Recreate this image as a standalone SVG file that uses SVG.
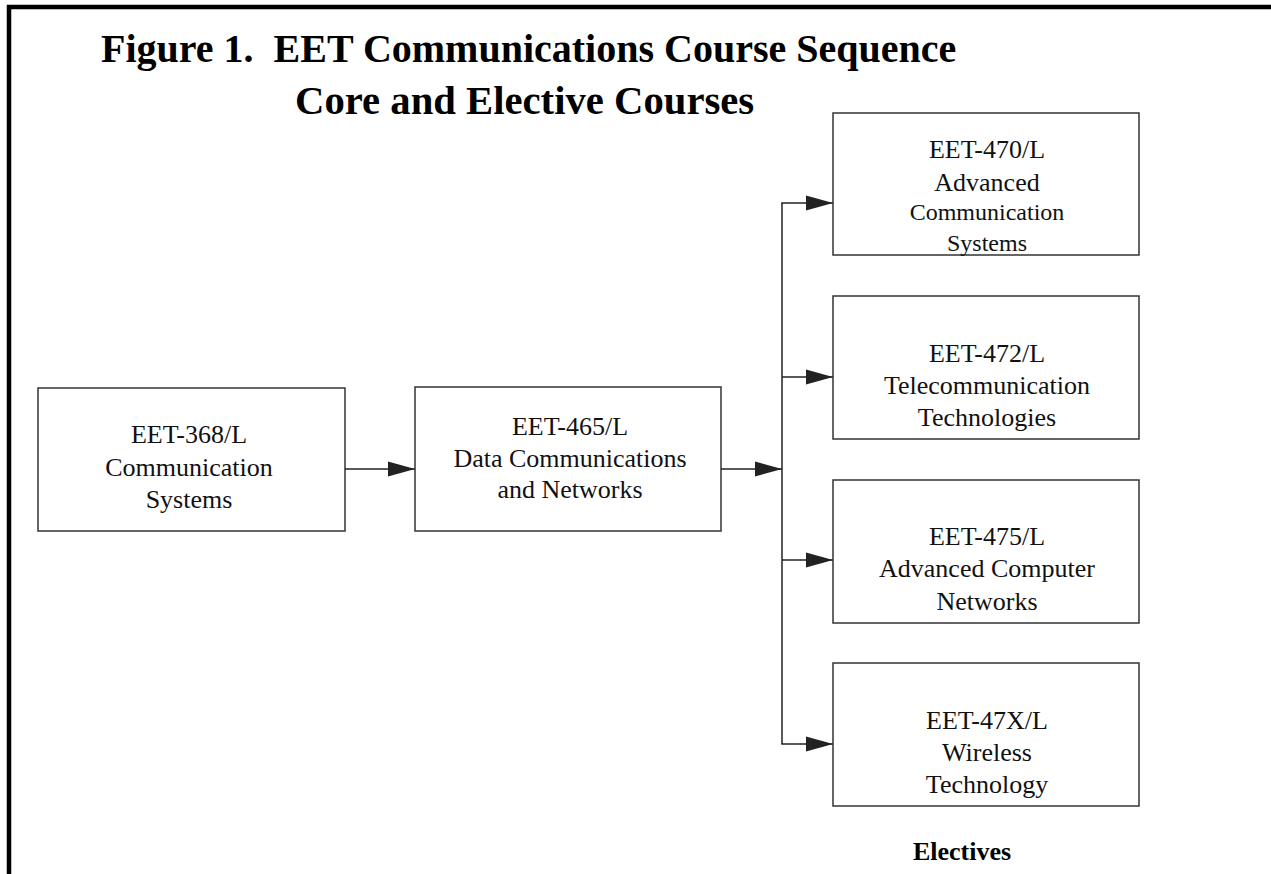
<svg xmlns="http://www.w3.org/2000/svg" width="1271" height="874" viewBox="0 0 1271 874">
<style>
.title{font-family:"Liberation Serif","Times New Roman",serif;font-weight:bold;font-size:40px;fill:#000;white-space:pre}
.lbl{font-family:"Liberation Serif","Times New Roman",serif;font-size:26px;fill:#111;text-anchor:middle}
.bold{font-family:"Liberation Serif","Times New Roman",serif;font-size:26px;font-weight:bold;fill:#000;text-anchor:middle}
.box{fill:#fff;stroke:#333;stroke-width:1.5}
.con{fill:none;stroke:#222;stroke-width:1.5}
</style>
<defs>
<marker id="ah" markerUnits="userSpaceOnUse" markerWidth="27" markerHeight="16" refX="27" refY="8" orient="auto">
<path d="M0,0.5 L27,8 L0,15.5 Z" fill="#222"/>
</marker>
</defs>
<rect x="0" y="0" width="1271" height="874" fill="#fff"/>
<g id="frame">
<path d="M9,874 V7 H1271" fill="none" stroke="#000" stroke-width="4.5"/>
</g>
<g id="title">
<text class="title" x="101" y="62" xml:space="preserve">Figure 1.  EET Communications Course Sequence</text>
<text class="title" x="295" y="114" style="font-size:40.7px">Core and Elective Courses</text>
</g>
<g id="connectors">
<line class="con" x1="345" y1="469" x2="415" y2="469" marker-end="url(#ah)"/>
<line class="con" x1="721" y1="469" x2="782" y2="469" marker-end="url(#ah)"/>
<path class="con" d="M782,744 V203"/>
<line class="con" x1="781.25" y1="203" x2="833" y2="203" marker-end="url(#ah)"/>
<line class="con" x1="782" y1="377" x2="833" y2="377" marker-end="url(#ah)"/>
<line class="con" x1="782" y1="560" x2="833" y2="560" marker-end="url(#ah)"/>
<line class="con" x1="781.25" y1="744" x2="833" y2="744" marker-end="url(#ah)"/>
</g>
<g id="n368">
<rect class="box" x="38" y="388" width="307" height="143"/>
<text class="lbl" x="189" y="443">EET-368/L</text>
<text class="lbl" x="189" y="476">Communication</text>
<text class="lbl" x="189" y="508">Systems</text>
</g>
<g id="n465">
<rect class="box" x="415" y="387" width="306" height="144"/>
<text class="lbl" x="570" y="435">EET-465/L</text>
<text class="lbl" x="570" y="467">Data Communications</text>
<text class="lbl" x="570" y="498">and Networks</text>
</g>
<g id="n470">
<rect class="box" x="833" y="113" width="306" height="142"/>
<text class="lbl" x="987" y="158">EET-470/L</text>
<text class="lbl" x="987" y="191">Advanced</text>
<text class="lbl" x="987" y="220" style="font-size:24px">Communication</text>
<text class="lbl" x="987" y="251" style="font-size:24px">Systems</text>
</g>
<g id="n472">
<rect class="box" x="833" y="296" width="306" height="143"/>
<text class="lbl" x="987" y="362">EET-472/L</text>
<text class="lbl" x="987" y="394">Telecommunication</text>
<text class="lbl" x="987" y="426">Technologies</text>
</g>
<g id="n475">
<rect class="box" x="833" y="480" width="306" height="143"/>
<text class="lbl" x="987" y="545">EET-475/L</text>
<text class="lbl" x="987" y="577">Advanced Computer</text>
<text class="lbl" x="987" y="610">Networks</text>
</g>
<g id="n47x">
<rect class="box" x="833" y="663" width="306" height="143"/>
<text class="lbl" x="987" y="729">EET-47X/L</text>
<text class="lbl" x="987" y="761">Wireless</text>
<text class="lbl" x="987" y="793">Technology</text>
</g>
<g id="electives">
<text class="bold" x="962" y="860">Electives</text>
</g>
</svg>
